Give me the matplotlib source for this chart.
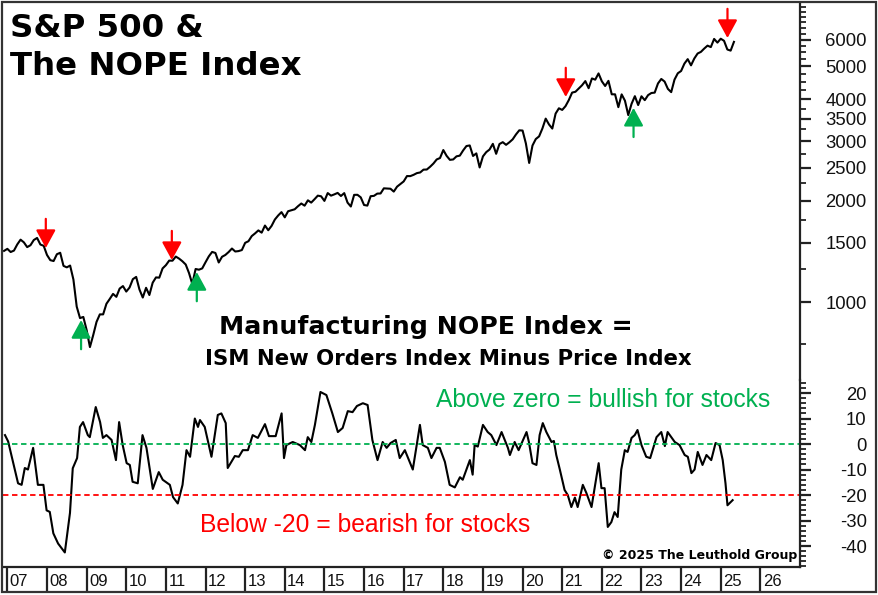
import matplotlib
matplotlib.use('Agg')
import matplotlib.pyplot as plt
import pandas as pd
from matplotlib.patches import Rectangle
from matplotlib.ticker import FixedLocator, NullFormatter

# ---------------- DATA ----------------
# S&P 500 monthly closes, starting Dec 2006
sp_start = '2006-12-01'
sp500 = [1418,
    1438, 1407, 1421, 1482, 1531, 1503, 1455, 1474, 1527, 1549, 1481, 1468,
    1379, 1331, 1323, 1386, 1400, 1280, 1267, 1283, 1166, 969, 896, 903,
    826, 735, 798, 873, 919, 919, 988, 1021, 1057, 1036, 1096, 1115,
    1074, 1104, 1169, 1187, 1089, 1031, 1102, 1049, 1141, 1183, 1181, 1258,
    1286, 1327, 1326, 1364, 1345, 1321, 1292, 1219, 1131, 1253, 1247, 1258,
    1312, 1366, 1408, 1398, 1310, 1362, 1379, 1407, 1441, 1412, 1416, 1426,
    1498, 1515, 1569, 1598, 1631, 1606, 1686, 1633, 1682, 1757, 1806, 1848,
    1783, 1859, 1872, 1884, 1924, 1960, 1931, 2003, 1972, 2018, 2068, 2059,
    1995, 2105, 2068, 2086, 2107, 2063, 2104, 1972, 1920, 2079, 2080, 2044,
    1940, 1932, 2060, 2065, 2097, 2099, 2174, 2171, 2168, 2126, 2199, 2239,
    2279, 2364, 2363, 2384, 2412, 2423, 2470, 2472, 2519, 2575, 2648, 2674,
    2824, 2714, 2641, 2648, 2705, 2718, 2816, 2902, 2914, 2712, 2760, 2507,
    2704, 2784, 2834, 2946, 2752, 2942, 2980, 2926, 2977, 3038, 3141, 3231,
    3226, 2954, 2585, 2912, 3044, 3100, 3271, 3500, 3363, 3270, 3622, 3756,
    3714, 3811, 3973, 4181, 4204, 4298, 4395, 4523, 4308, 4605, 4567, 4766,
    4516, 4374, 4530, 4132, 4132, 3785, 4130, 3955, 3586, 3872, 4080, 3840,
    4077, 3970, 4109, 4169, 4180, 4450, 4589, 4508, 4288, 4194, 4568, 4770,
    4846, 5096, 5254, 5036, 5278, 5460, 5522, 5648, 5762, 5705, 6032, 5882,
    6041, 5955, 5612, 5569, 5912]

# Manufacturing NOPE index (ISM new orders minus prices)
nope_dates = [2006.94, 2007.02, 2007.27, 2007.36, 2007.44, 2007.52, 2007.65, 2007.77, 2007.91, 2007.99,
    2008.07, 2008.16, 2008.28, 2008.45, 2008.58, 2008.65, 2008.76, 2008.83, 2008.91,
    2009.03, 2009.08, 2009.23, 2009.34, 2009.41, 2009.50, 2009.63, 2009.74, 2009.82, 2009.91,
    2010.01, 2010.09, 2010.16, 2010.29, 2010.41, 2010.51, 2010.67, 2010.82, 2010.92,
    2011.10, 2011.18, 2011.30, 2011.42, 2011.52, 2011.61, 2011.73, 2011.81, 2011.86, 2011.98,
    2012.15, 2012.31, 2012.40, 2012.51, 2012.56, 2012.74, 2012.84, 2012.94,
    2013.07, 2013.19, 2013.32, 2013.50, 2013.60, 2013.77, 2013.92, 2013.98,
    2014.04, 2014.20, 2014.38, 2014.51, 2014.58, 2014.67, 2014.76, 2014.90,
    2015.05, 2015.20, 2015.34, 2015.46, 2015.59, 2015.71, 2015.82, 2015.97,
    2016.09, 2016.21, 2016.34, 2016.47, 2016.57, 2016.67, 2016.80, 2016.90,
    2017.03, 2017.23, 2017.41, 2017.48, 2017.61, 2017.70, 2017.83, 2017.91,
    2018.04, 2018.16, 2018.29, 2018.42, 2018.49, 2018.67, 2018.74, 2018.79, 2018.87,
    2019.00, 2019.12, 2019.21, 2019.34, 2019.47, 2019.63, 2019.68, 2019.80, 2019.90,
    2020.10, 2020.16, 2020.25, 2020.35, 2020.43, 2020.51, 2020.60, 2020.73, 2020.79, 2020.85, 2020.94,
    2021.06, 2021.14, 2021.23, 2021.32, 2021.39, 2021.52, 2021.61, 2021.74, 2021.86, 2021.92, 2021.99,
    2022.07, 2022.15, 2022.24, 2022.32, 2022.40, 2022.49, 2022.58, 2022.65, 2022.75, 2022.83, 2022.90,
    2023.00, 2023.12, 2023.22, 2023.38, 2023.50, 2023.59, 2023.66, 2023.84, 2023.96,
    2024.09, 2024.17, 2024.26, 2024.34, 2024.42, 2024.54, 2024.64, 2024.76, 2024.87, 2024.97,
    2025.05, 2025.12, 2025.17, 2025.30]
nope_values = [3.5, 1.0, -15.4, -16.0, -9.4, -10.0, -1.5, -16.0, -16.0, -26.0,
    -26.6, -35.0, -39.0, -42.5, -27.0, -9.5, -5.5, 6.7, 8.6,
    3.5, 2.7, 14.5, 8.6, 2.4, 3.5, 1.6, -6.3, 8.6, -0.4,
    -7.5, -8.2, -14.8, -15.4, 3.5, -1.5, -17.6, -11.0, -14.0,
    -16.0, -20.8, -23.3, -16.0, -2.4, -5.0, 10.0, 6.7, 9.4, 6.7,
    -5.0, 11.4, 12.0, 8.2, -9.4, -4.7, -5.0, -2.4,
    -2.4, 3.5, 2.4, 7.8, 3.1, 3.1, 12.0, -5.5,
    -0.4, 0.8, -0.4, -2.4, 2.7, 0.8, 7.5, 20.4,
    19.2, 12.0, 4.7, 6.3, 12.9, 12.5, 14.9, 16.0,
    15.3, 1.6, -6.3, 0.8, -1.5, 0.4, 1.6, -5.5,
    -2.4, -10.0, 7.5, -0.4, -1.5, -5.5, -1.5, -1.5,
    -7.0, -16.0, -17.0, -13.0, -14.0, -6.3, -12.0, -0.4, -1.0,
    7.5, 4.7, 3.5, -0.4, 4.7, -1.5, -4.3, 0.8, -2.4,
    4.7, 0.8, -7.5, -8.2, 3.5, 8.2, 4.7, 0.8, 1.2, -4.3, -10.0,
    -18.0, -20.0, -24.7, -21.0, -24.7, -16.0, -19.2, -24.7, -13.3, -7.5, -17.3,
    -17.3, -32.5, -30.6, -26.7, -28.6, -10.0, -2.4, -3.1, 2.4, 3.5, 5.5,
    -0.4, -5.0, -5.5, 2.7, 4.7, -0.8, 4.7, 0.8, -0.4,
    -4.3, -5.0, -11.4, -10.0, -3.1, -8.2, -4.3, -6.3, 0.4, -0.4,
    -6.3, -15.4, -24.0, -22.0]

bull_level = 0
bear_level = -20

red_arrow_dates = [2007.97, 2011.15, 2021.09, 2025.17]
red_arrow_values = [1446, 1332, 4058, 6070]
green_arrow_dates = [2008.86, 2011.78, 2022.80]
green_arrow_values = [884, 1227, 3767]

sp_ticks = [1000, 1500, 2000, 2500, 3000, 3500, 4000, 5000, 6000]
sp_tick_labels = ['1000', '1500', '2000', '2500', '3000', '3500', '4000', '5000', '6000']
sp_minor = [v for v in range(750, 7751, 250) if v not in sp_ticks]
nope_ticks = [20, 10, 0, -10, -20, -30, -40]
nope_tick_labels = ['20', '10', '0', '-10', '-20', '-30', '-40']
nope_minor = [v for v in range(-48, 25, 2) if v % 10 != 0]
years = list(range(2007, 2027))
year_labels = ['07', '08', '09', '10', '11', '12', '13', '14', '15', '16',
               '17', '18', '19', '20', '21', '22', '23', '24', '25', '26']

mid_line1 = 'Manufacturing NOPE Index ='
mid_line2 = 'ISM New Orders Index Minus Price Index'
bull_text = 'Above zero = bullish for stocks'
bear_text = 'Below -20 = bearish for stocks'
copyright_text = '\u00a9 2025 The Leuthold Group'

# ---------------- STYLE / LAYOUT ----------------
GREEN = '#00B050'
RED = '#FF0000'
W, H = 879, 595
fig = plt.figure(figsize=(W / 100, H / 100), dpi=100)
fig.patch.set_facecolor('white')

def fx(px):
    return px / W

def fy(py):
    return 1 - py / H

L, R = 3, 800
TOP, MID, BOT, SBOT = 3, 380, 567, 592

ax1 = fig.add_axes([fx(L), fy(MID), (R - L) / W, (MID - TOP) / H])
ax2 = fig.add_axes([fx(L), fy(BOT), (R - L) / W, (BOT - MID) / H])
ax3 = fig.add_axes([fx(L), fy(SBOT), (R - L) / W, (SBOT - BOT) / H])

XMIN, XMAX = 2006.89, 2027.0

sp_idx = pd.date_range(sp_start, periods=len(sp500), freq='MS')
sp_dates = [d.year + (d.month - 1) / 12 for d in sp_idx]

# Upper panel
ax1.plot(sp_dates, sp500, color='black', lw=1.5, solid_joinstyle='round')
ax1.set_yscale('log')
ax1.set_xlim(XMIN, XMAX)
ax1.set_ylim(587, 7710)
ax1.yaxis.tick_right()
ax1.set_yticks(sp_ticks)
ax1.set_yticklabels(sp_tick_labels)
ax1.yaxis.set_minor_locator(FixedLocator(sp_minor))
ax1.yaxis.set_minor_formatter(NullFormatter())

for xd, yv in zip(red_arrow_dates, red_arrow_values):
    ax1.annotate('', xy=(xd, yv), xycoords='data', xytext=(0, 21), textcoords='offset points',
                 arrowprops=dict(arrowstyle='-|>,head_length=0.55,head_width=0.3', mutation_scale=20,
                                 lw=1.6, color=RED, shrinkA=0, shrinkB=0))
for xd, yv in zip(green_arrow_dates, green_arrow_values):
    ax1.annotate('', xy=(xd, yv), xycoords='data', xytext=(0, -21), textcoords='offset points',
                 arrowprops=dict(arrowstyle='-|>,head_length=0.55,head_width=0.3', mutation_scale=20,
                                 lw=1.6, color=GREEN, shrinkA=0, shrinkB=0))

# Lower panel
ax2.plot(nope_dates, nope_values, color='black', lw=1.5, solid_joinstyle='round')
ax2.axhline(bull_level, color=GREEN, lw=1.3, ls=(0, (3, 2)))
ax2.axhline(bear_level, color=RED, lw=1.3, ls=(0, (3, 2)))
ax2.set_xlim(XMIN, XMAX)
ax2.set_ylim(-48.2, 25.1)
ax2.yaxis.tick_right()
ax2.set_yticks(nope_ticks)
ax2.set_yticklabels(nope_tick_labels)
ax2.yaxis.set_minor_locator(FixedLocator(nope_minor))
ax2.yaxis.set_minor_formatter(NullFormatter())

for ax in (ax1, ax2):
    ax.set_xticks([])
    for s in ('left', 'top', 'bottom'):
        ax.spines[s].set_visible(False)
    ax.spines['right'].set_linewidth(1.6)
    ax.spines['right'].set_color('#222222')
    ax.tick_params(axis='y', which='major', direction='out', length=8, width=1.6,
                   pad=40, labelsize=13.3, colors='#222222', labelcolor='#111111')
    ax.tick_params(axis='y', which='minor', direction='out', length=4.5, width=1.3, colors='#222222')
    for t in ax.get_yticklabels():
        t.set_horizontalalignment('right')
        t.set_fontfamily('Liberation Sans')
    ax.patch.set_alpha(0)

# Year strip
ax3.set_xlim(XMIN, XMAX)
ax3.set_ylim(0, 1)
ax3.vlines(years, 0, 1, color='#222222', lw=1.6)
for yr, lab in zip(years, year_labels):
    ax3.text(yr + 0.06, 0.42, lab, ha='left', va='center', fontsize=12,
             family='Liberation Sans', color='#111111')
ax3.set_xticks([])
ax3.set_yticks([])
for s in ('left', 'right', 'bottom'):
    ax3.spines[s].set_visible(False)
ax3.spines['top'].set_linewidth(1.6)
ax3.spines['top'].set_color('#222222')
ax3.patch.set_alpha(0)

# Texts
fig.text(fx(10), fy(37), 'S&P 500 &', ha='left', va='baseline', fontsize=23.3,
         fontweight='bold', family='DejaVu Sans', color='black')
fig.text(fx(10), fy(75), 'The NOPE Index', ha='left', va='baseline', fontsize=23.3,
         fontweight='bold', family='DejaVu Sans', color='black')
fig.text(fx(426), fy(334), mid_line1, ha='center', va='baseline', fontsize=18.2,
         fontweight='bold', family='DejaVu Sans', color='black')
fig.text(fx(448), fy(365), mid_line2, ha='center', va='baseline', fontsize=15.3,
         fontweight='bold', family='DejaVu Sans', color='black')
fig.text(fx(436), fy(407), bull_text, ha='left', va='baseline', fontsize=17.7,
         family='Liberation Sans', color=GREEN)
fig.text(fx(200), fy(532), bear_text, ha='left', va='baseline', fontsize=17.7,
         family='Liberation Sans', color=RED)
fig.text(fx(797), fy(559), copyright_text, ha='right', va='baseline', fontsize=9,
         fontweight='bold', family='DejaVu Sans', color='black')

# Figure border
fig.patches.append(Rectangle((fx(2), fy(592)), (874) / W, (590) / H, transform=fig.transFigure,
                             fill=False, lw=1.6, edgecolor='#333333'))

fig.savefig('out.png', dpi=100)
